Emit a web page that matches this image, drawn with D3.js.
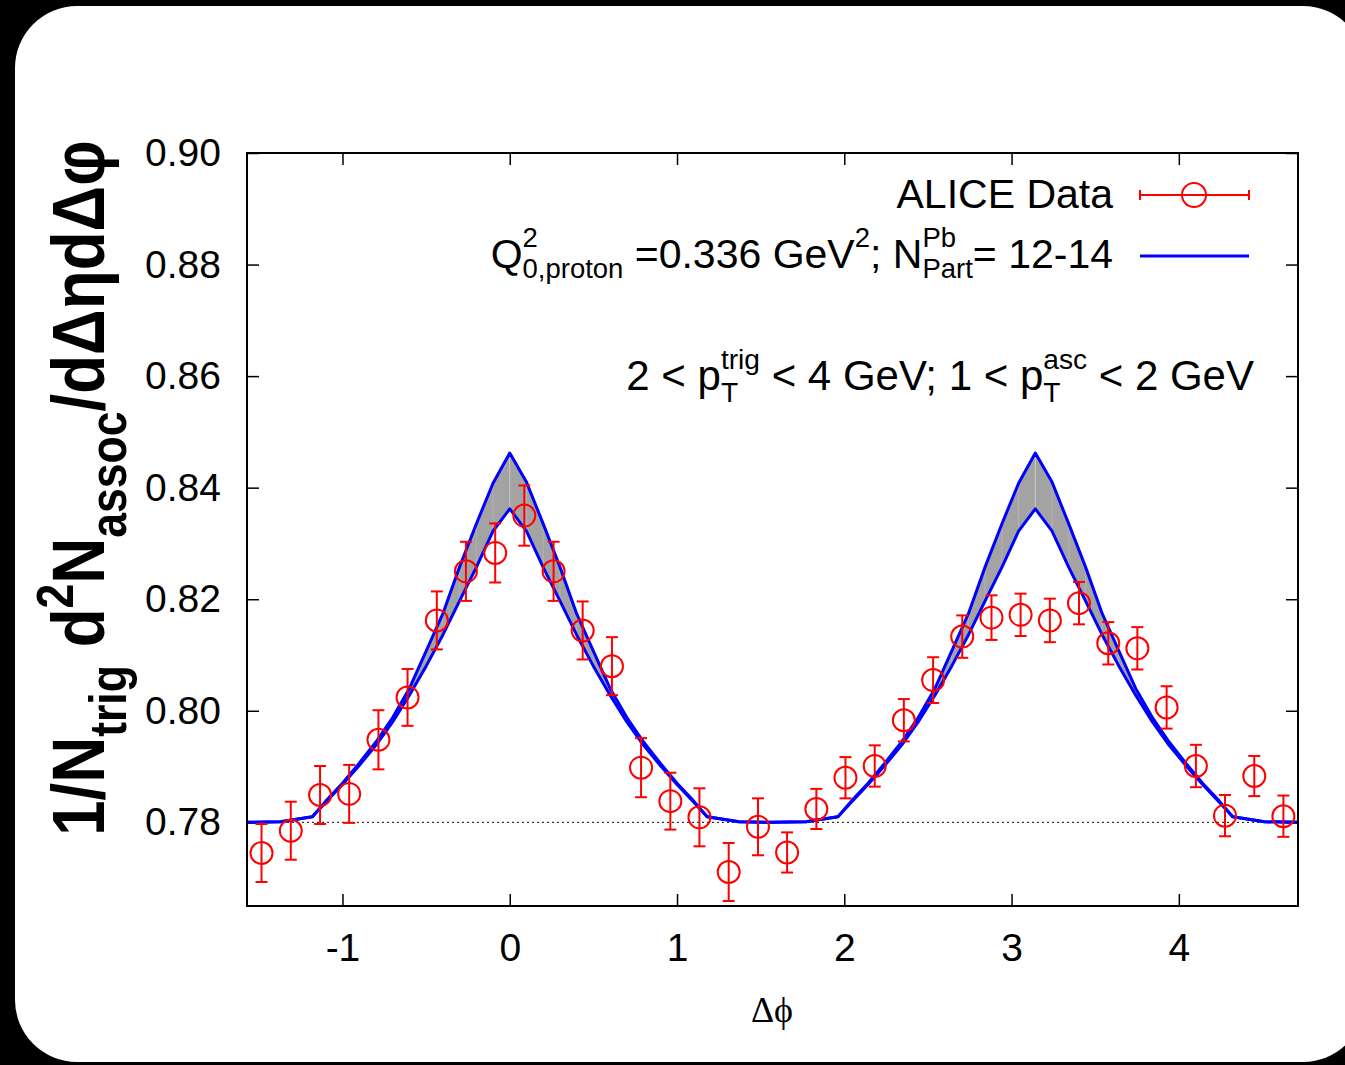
<!DOCTYPE html>
<html>
<head>
<meta charset="UTF-8" />
<script src="https://cdnjs.cloudflare.com/ajax/libs/d3/7.8.5/d3.min.js"></script>
<style>
  body { margin: 0; background: #000; }
  text { font-family: "Liberation Sans", Arial, Helvetica, sans-serif; fill: #000; white-space: pre; }
  .axis path.domain { display: none; }
  .axis line { stroke: #000; stroke-width: 1.5; }
  .axis text { font-size: 39px; font-family: "Liberation Sans", Arial, sans-serif; }
</style>
</head>
<body>
<svg id="chart" width="1345" height="1065"></svg>
<script>
// ALICE data points (delta phi, yield, stat error)
const dataPhi = [-1.484, -1.309, -1.134, -0.960, -0.785, -0.611, -0.436, -0.262, -0.087,
  0.087, 0.262, 0.436, 0.611, 0.785, 0.960, 1.134, 1.309, 1.484, 1.658, 1.833, 2.007,
  2.182, 2.356, 2.531, 2.705, 2.880, 3.054, 3.229, 3.403, 3.578, 3.752, 3.927, 4.102,
  4.276, 4.451, 4.625];
const dataYield = [0.7745, 0.7785, 0.7849, 0.7851, 0.7948, 0.8024, 0.8162, 0.8250, 0.8283,
  0.8350, 0.8250, 0.8144, 0.8080, 0.7898, 0.7838, 0.7809, 0.7711, 0.7792, 0.7746, 0.7824,
  0.7880, 0.7901, 0.7983, 0.8055, 0.8133, 0.8167, 0.8172, 0.8162, 0.8193, 0.8121, 0.8112,
  0.8006, 0.7901, 0.7812, 0.7883, 0.7811];
const dataErr = [0.0052, 0.0052, 0.0052, 0.0052, 0.0053, 0.0051, 0.0052, 0.0053, 0.0053,
  0.0054, 0.0053, 0.0052, 0.0052, 0.0053, 0.0051, 0.0052, 0.0052, 0.0051, 0.0036, 0.0036,
  0.0037, 0.0037, 0.0038, 0.0041, 0.0038, 0.0040, 0.0038, 0.0039, 0.0038, 0.0038, 0.0038,
  0.0038, 0.0038, 0.0037, 0.0036, 0.0037];

// model band (Q0^2 = 0.336, Npart 12-14)
const modelPhi = [-1.571, -1.37, -1.18, -1.1, -1.0, -0.9, -0.8, -0.7, -0.6, -0.5, -0.4, -0.3,
  -0.2, -0.1, 0.0, 0.1, 0.2, 0.3, 0.4, 0.5, 0.6, 0.7, 0.8, 0.9, 1.0, 1.1, 1.18, 1.37, 1.571,
  1.77, 1.962, 2.042, 2.142, 2.242, 2.342, 2.442, 2.542, 2.642, 2.742, 2.842, 2.942, 3.042,
  3.142, 3.242, 3.342, 3.442, 3.542, 3.642, 3.742, 3.842, 3.942, 4.042, 4.142, 4.242, 4.322,
  4.512, 4.712];
const modelUpper = [0.7800, 0.7801, 0.7810, 0.7838, 0.7870, 0.7906, 0.7944, 0.7988, 0.8040,
  0.8107, 0.8174, 0.8258, 0.8335, 0.8408, 0.8462, 0.8410, 0.8335, 0.8258, 0.8174, 0.8107,
  0.8040, 0.7988, 0.7944, 0.7906, 0.7870, 0.7838, 0.7810, 0.7801, 0.7800, 0.7801, 0.7810,
  0.7838, 0.7870, 0.7906, 0.7944, 0.7988, 0.8040, 0.8107, 0.8174, 0.8258, 0.8335, 0.8408,
  0.8462, 0.8410, 0.8335, 0.8258, 0.8174, 0.8107, 0.8040, 0.7988, 0.7944, 0.7906, 0.7870,
  0.7838, 0.7810, 0.7801, 0.7800];
const modelLower = [0.7800, 0.7801, 0.7810, 0.7836, 0.7868, 0.7902, 0.7938, 0.7980, 0.8028,
  0.8080, 0.8136, 0.8197, 0.8257, 0.8322, 0.8362, 0.8322, 0.8257, 0.8197, 0.8136, 0.8080,
  0.8028, 0.7980, 0.7938, 0.7902, 0.7868, 0.7836, 0.7810, 0.7801, 0.7800, 0.7801, 0.7810,
  0.7836, 0.7868, 0.7902, 0.7938, 0.7980, 0.8028, 0.8080, 0.8136, 0.8197, 0.8257, 0.8322,
  0.8362, 0.8322, 0.8257, 0.8197, 0.8136, 0.8080, 0.8028, 0.7980, 0.7938, 0.7902, 0.7868,
  0.7836, 0.7810, 0.7801, 0.7800];

const baseline = 0.78;
const xDomain = [-1.5708, 4.7124];
const yDomain = [0.765, 0.90];
const xTicks = [-1, 0, 1, 2, 3, 4];
const yTicks = [0.78, 0.80, 0.82, 0.84, 0.86, 0.88, 0.90];

const svg = d3.select("#chart");

// rounded white card on black
svg.append("rect")
  .attr("x", 15).attr("y", 6)
  .attr("width", 1350).attr("height", 1056)
  .attr("rx", 62)
  .attr("fill", "#fff");

const mLeft = 247, mTop = 153, width = 1051, height = 753;
const g = svg.append("g").attr("transform", `translate(${mLeft},${mTop})`);

const x = d3.scaleLinear().domain(xDomain).range([0, width]);
const y = d3.scaleLinear().domain(yDomain).range([height, 0]);

// axes, ticks pointing inward
g.append("g").attr("class", "axis")
  .attr("transform", `translate(0,${height})`)
  .call(d3.axisBottom(x).tickValues(xTicks).tickSize(-12).tickPadding(27).tickFormat(d => String(d)));
g.append("g").attr("class", "axis")
  .call(d3.axisTop(x).tickValues(xTicks).tickSize(-12).tickFormat(""));
g.append("g").attr("class", "axis")
  .call(d3.axisLeft(y).tickValues(yTicks).tickSize(-12).tickPadding(26).tickFormat(d3.format(".2f")));
g.append("g").attr("class", "axis")
  .attr("transform", `translate(${width},0)`)
  .call(d3.axisRight(y).tickValues(yTicks).tickSize(-12).tickFormat(""));

// dotted baseline
g.append("line")
  .attr("x1", 0).attr("x2", width)
  .attr("y1", y(baseline)).attr("y2", y(baseline))
  .attr("stroke", "#000").attr("stroke-width", 1)
  .attr("stroke-dasharray", "2,3");

// model band
const model = modelPhi.map((p, i) => ({ p, hi: modelUpper[i], lo: modelLower[i] }));
g.append("path")
  .datum(model)
  .attr("fill", "#a3a3a3")
  .attr("d", d3.area().x(d => x(d.p)).y0(d => y(d.lo)).y1(d => y(d.hi)));

// faint seams where the filled strips meet
g.selectAll("line.seam")
  .data(model.filter(d => d.hi - d.lo > 0.0003))
  .join("line")
  .attr("class", "seam")
  .attr("x1", d => x(d.p)).attr("x2", d => x(d.p))
  .attr("y1", d => y(d.lo)).attr("y2", d => y(d.hi))
  .attr("stroke", "#cfcfcf").attr("stroke-width", 1)
  .attr("opacity", d => d.hi - d.lo > 0.009 ? 0.9 : 0.35);

["hi", "lo"].forEach(k => {
  g.append("path")
    .datum(model)
    .attr("fill", "none")
    .attr("stroke", "#0000ff")
    .attr("stroke-width", 3)
    .attr("stroke-linejoin", "round")
    .attr("d", d3.line().x(d => x(d.p)).y(d => y(d[k])));
});

// data points
const pts = dataPhi.map((p, i) => ({ p, v: dataYield[i], e: dataErr[i] }));
const red = "#ff0000";
const pg = g.selectAll("g.pt").data(pts).join("g").attr("class", "pt");
pg.append("line")
  .attr("x1", d => x(d.p)).attr("x2", d => x(d.p))
  .attr("y1", d => y(d.v - d.e)).attr("y2", d => y(d.v + d.e))
  .attr("stroke", red).attr("stroke-width", 2);
[-1, 1].forEach(s => {
  pg.append("line")
    .attr("x1", d => x(d.p) - 6).attr("x2", d => x(d.p) + 6)
    .attr("y1", d => y(d.v + s * d.e)).attr("y2", d => y(d.v + s * d.e))
    .attr("stroke", red).attr("stroke-width", 2);
});
pg.append("circle")
  .attr("cx", d => x(d.p)).attr("cy", d => y(d.v))
  .attr("r", 11)
  .attr("fill", "none").attr("stroke", red).attr("stroke-width", 2);

// frame
g.append("rect")
  .attr("width", width).attr("height", height)
  .attr("fill", "none").attr("stroke", "#000").attr("stroke-width", 2);

// text made of pieces with sub/superscripts
function rich(parent, parts, px, py, size, anchor, weight) {
  const tg = parent.append("g");
  let cx = 0, lastStart = 0;
  parts.forEach(p => {
    const s = p.s || 1;
    const t = tg.append("text")
      .attr("font-size", size * s)
      .attr("font-weight", weight || null)
      .text(p.t);
    if (p.f) t.style("font-family", p.f);
    const w = t.node().getComputedTextLength();
    const at = p.stack ? lastStart : cx;
    t.attr("x", at).attr("y", (p.dy || 0) * size);
    if (p.stack) cx = Math.max(cx, at + w);
    else { lastStart = at; cx = at + w; }
  });
  const shift = anchor === "end" ? -cx : anchor === "middle" ? -cx / 2 : 0;
  tg.attr("transform", `translate(${px + shift},${py})`);
  return tg;
}

// legend
rich(svg, [{ t: "ALICE Data" }], 1113, 208, 41, "end");
svg.append("line").attr("x1", 1140).attr("x2", 1249).attr("y1", 195).attr("y2", 195)
  .attr("stroke", red).attr("stroke-width", 2);
[1140, 1249].forEach(cx => svg.append("line")
  .attr("x1", cx).attr("x2", cx).attr("y1", 190).attr("y2", 200)
  .attr("stroke", red).attr("stroke-width", 2));
svg.append("circle").attr("cx", 1194).attr("cy", 195).attr("r", 12)
  .attr("fill", "none").attr("stroke", red).attr("stroke-width", 2);

rich(svg, [
  { t: "Q" },
  { t: "2", s: 0.67, dy: -0.52 },
  { t: "0,proton", s: 0.67, dy: 0.25, stack: true },
  { t: " =0.336 GeV" },
  { t: "2", s: 0.67, dy: -0.52 },
  { t: "; N" },
  { t: "Pb", s: 0.67, dy: -0.52 },
  { t: "Part", s: 0.67, dy: 0.25, stack: true },
  { t: "= 12-14" }
], 1113, 268, 41, "end");
svg.append("line").attr("x1", 1140).attr("x2", 1249).attr("y1", 256).attr("y2", 256)
  .attr("stroke", "#0000ff").attr("stroke-width", 3);

rich(svg, [
  { t: "2 < p" },
  { t: "trig", s: 0.67, dy: -0.5 },
  { t: "T", s: 0.67, dy: 0.28, stack: true },
  { t: " < 4 GeV; 1 < p" },
  { t: "asc", s: 0.67, dy: -0.5 },
  { t: "T", s: 0.67, dy: 0.28, stack: true },
  { t: " < 2 GeV" }
], 1254, 390, 42, "end");

// axis titles
rich(svg, [{ t: "Δϕ", f: "'Liberation Serif', 'Times New Roman', serif" }], 772, 1022, 36, "middle");

const yl = svg.append("g").attr("transform", "translate(104,488) rotate(-90) scale(0.86,1)");
rich(yl, [
  { t: "1/N" },
  { t: "trig", s: 0.7, dy: 0.3 },
  { t: " d" },
  { t: "2", s: 0.7, dy: -0.42 },
  { t: "N" },
  { t: "assoc", s: 0.7, dy: 0.3 },
  { t: "/dΔηdΔφ" }
], 0, 0, 74, "middle", "bold");
</script>
</body>
</html>
